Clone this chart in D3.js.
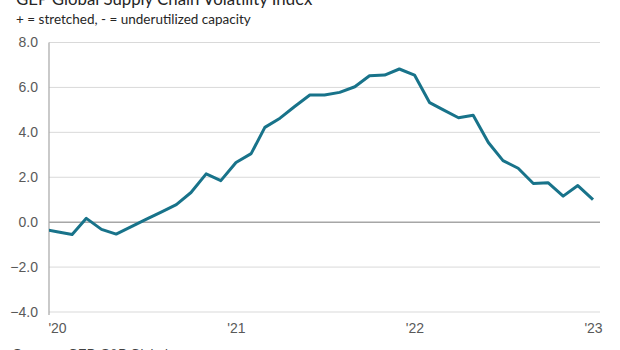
<!DOCTYPE html>
<html>
<head>
<meta charset="utf-8">
<script src="https://cdn.jsdelivr.net/npm/d3@7"></script>
<style>
  html, body { margin: 0; padding: 0; background: #fff; }
  svg { display: block; }
</style>
</head>
<body>
<script>
// monthly index readings, Dec 2019 (clipped at the axis) through Jan 2023
const months = [
  "2019-12", "2020-01", "2020-02", "2020-03", "2020-04", "2020-05", "2020-06",
  "2020-07", "2020-08", "2020-09", "2020-10", "2020-11", "2020-12",
  "2021-01", "2021-02", "2021-03", "2021-04", "2021-05", "2021-06",
  "2021-07", "2021-08", "2021-09", "2021-10", "2021-11", "2021-12",
  "2022-01", "2022-02", "2022-03", "2022-04", "2022-05", "2022-06",
  "2022-07", "2022-08", "2022-09", "2022-10", "2022-11", "2022-12",
  "2023-01"
];
const values = [
  -0.30, -0.43, -0.55, 0.17, -0.32, -0.53, -0.20,
  0.12, 0.45, 0.78, 1.32, 2.15, 1.85,
  2.66, 3.05, 4.22, 4.63, 5.15, 5.66,
  5.66, 5.78, 6.03, 6.52, 6.55, 6.82,
  6.55, 5.32, 5.00, 4.65, 4.76, 3.55,
  2.74, 2.40, 1.72, 1.76, 1.16, 1.63,
  1.00
];
const yTicks = [-4, -2, 0, 2, 4, 6, 8];
const xTickDates = ["2020-01", "2021-01", "2022-01", "2023-01"];
const xTickLabels = ["'20", "'21", "'22", "'23"];

const width = 620, height = 350;
const plotLeft = 49, plotRight = 600;
const parse = d3.utcParse("%Y-%m");

const data = months.map((m, i) => ({ date: parse(m), value: values[i] }));

const x = d3.scaleUtc()
    .domain([parse("2020-01"), parse("2023-01")])
    .range([57, 593]);

const y = d3.scaleLinear()
    .domain([-4, 8])
    .range([312, 42.5]);

const svg = d3.select("body").append("svg")
    .attr("width", width)
    .attr("height", height);

// titles (top of the title runs off the frame, as in the source image)
svg.append("text")
    .attr("x", 16).attr("y", 5)
    .attr("font-family", "Lato, 'Open Sans', sans-serif")
    .attr("font-size", 16.8)
    .attr("fill", "#262626")
    .text("GEP Global Supply Chain Volatility Index");

svg.append("text")
    .attr("x", 16).attr("y", 24)
    .attr("font-family", "Lato, 'Open Sans', sans-serif")
    .attr("font-size", 13.5)
    .attr("fill", "#262626")
    .text("+ = stretched, - = underutilized capacity");

// gridlines
svg.append("g")
    .selectAll("line")
    .data(yTicks)
    .join("line")
    .attr("x1", plotLeft).attr("x2", plotRight)
    .attr("y1", d => y(d)).attr("y2", d => y(d))
    .attr("stroke", d => d === 0 ? "#a6a6a6" : "#d9d9d9")
    .attr("stroke-width", d => d === 0 ? 1.5 : 1);

// y axis
const yAxis = svg.append("g")
    .attr("transform", `translate(${plotLeft},0)`)
    .call(d3.axisLeft(y).tickValues(yTicks).tickFormat(d3.format(".1f")).tickSize(0).tickPadding(11));
yAxis.select(".domain").remove();
yAxis.selectAll("text")
    .attr("font-family", "'Liberation Sans', Arial, sans-serif")
    .attr("font-size", 14)
    .attr("fill", "#595959");

svg.append("line")
    .attr("x1", plotLeft).attr("x2", plotLeft)
    .attr("y1", y(8)).attr("y2", y(-4) + 3)
    .attr("stroke", "#a6a6a6")
    .attr("stroke-width", 1.2);

// x axis labels
const xAxis = svg.append("g")
    .attr("transform", `translate(0,${y(-4)})`)
    .call(d3.axisBottom(x)
        .tickValues(xTickDates.map(parse))
        .tickFormat((d, i) => xTickLabels[i])
        .tickSize(0).tickPadding(11));
xAxis.select(".domain").remove();
xAxis.selectAll("text")
    .attr("font-family", "'Liberation Sans', Arial, sans-serif")
    .attr("font-size", 14)
    .attr("fill", "#595959");

// line, clipped at the value axis
svg.append("clipPath").attr("id", "plot-clip")
  .append("rect")
    .attr("x", plotLeft).attr("y", 0)
    .attr("width", plotRight - plotLeft + 10).attr("height", height);

const line = d3.line()
    .x(d => x(d.date))
    .y(d => y(d.value));

svg.append("path")
    .datum(data)
    .attr("clip-path", "url(#plot-clip)")
    .attr("fill", "none")
    .attr("stroke", "#18738a")
    .attr("stroke-width", 3)
    .attr("stroke-linejoin", "round")
    .attr("d", line);

// source note (bottom runs off the frame, as in the source image)
svg.append("text")
    .attr("x", 13).attr("y", 358)
    .attr("font-family", "'Liberation Sans', Arial, sans-serif")
    .attr("font-size", 13)
    .attr("fill", "#404040")
    .text("Sources: GEP, S&P Global");
</script>
</body>
</html>
